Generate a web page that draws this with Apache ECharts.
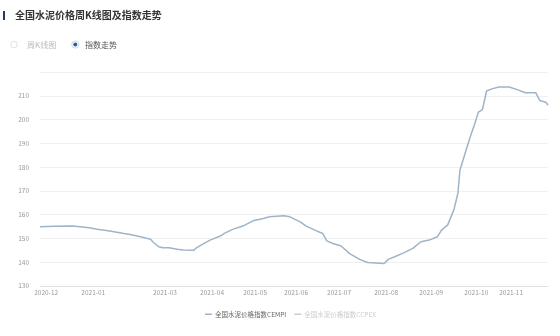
<!DOCTYPE html>
<html>
<head>
<meta charset="utf-8">
<script src="https://cdn.jsdelivr.net/npm/echarts@6/dist/echarts.min.js"></script>
<style>html,body{margin:0;padding:0;background:#fff;}#c{width:560px;height:336px;}</style>
</head>
<body>
<div id="c"></div>
<script>
// x = working-day index since 2020-11-26
const monthTickIdx = [3, 26, 61, 84, 105, 125, 146, 169, 191, 213, 230];
const monthTickLabels = ['2020-12','2021-01','2021-03','2021-04','2021-05','2021-06','2021-07','2021-08','2021-09','2021-10','2021-11'];
const cempiIdx = [0,7,16,24,28,34,41,44,49,54,55,58,60,63,67,70,75,76,78,83,88,90,94,99,104,109,112,119,122,127,130,135,138,140,143,147,151,156,160,168,170,174,177,182,186,190,194,196,199,202,204,205,208,210,212,214,216,218,221,224,229,233,237,242,244,247,248];
const cempiVal = [154.9,155.1,155.2,154.5,153.9,153.1,152.1,151.7,150.7,149.7,148.6,146.5,146.1,146.1,145.5,145.1,145.0,145.8,146.9,149.3,151.0,152.1,153.8,155.2,157.4,158.4,159.1,159.5,159.1,157.0,155.2,153.2,152.1,149.0,147.9,146.8,143.7,141.2,139.9,139.5,141.2,142.6,143.7,145.8,148.6,149.3,150.7,153.5,155.6,161.9,168.9,178.7,187.1,192.7,197.6,203.1,204.2,212.0,213.0,213.7,213.7,212.6,211.3,211.3,208.0,207.3,206.0];
const ccpexVal = [];
const seriesNames = ['全国水泥价格指数CEMPI', '全国水泥价格指数CCPEX'];
const yTicks = [130, 140, 150, 160, 170, 180, 190, 200, 210, 220];

const chart = echarts.init(document.getElementById('c'), null, {renderer: 'canvas'});
const font = "'Noto Sans CJK SC', 'Noto Sans', sans-serif";
chart.setOption({
  animation: false,
  textStyle: {fontFamily: font},
  grid: {left: 40, right: 12, top: 72, bottom: 50},
  graphic: [
    {type: 'rect', shape: {x: 3, y: 11, width: 2, height: 9}, style: {fill: '#1d3a6e'}},
    {type: 'text', x: 15, y: 15.5, style: {text: '全国水泥价格周K线图及指数走势', font: "bold 10px 'Noto Sans CJK SC'", fill: '#333', textVerticalAlign: 'middle'}},
    {type: 'circle', shape: {cx: 14, cy: 44.5, r: 3.3}, style: {fill: '#fff', stroke: '#d8d8d8', lineWidth: 0.8}},
    {type: 'text', x: 27, y: 44.5, style: {text: '周K线图', font: "8px 'Noto Sans CJK SC'", fill: '#bbb', textVerticalAlign: 'middle'}},
    {type: 'circle', shape: {cx: 75.3, cy: 44.5, r: 3.6}, style: {fill: '#fff', stroke: '#b9cbe2', lineWidth: 0.8}},
    {type: 'circle', shape: {cx: 75.3, cy: 44.5, r: 2}, style: {fill: '#2c5d9e'}},
    {type: 'text', x: 85, y: 44.5, style: {text: '指数走势', font: "8px 'Noto Sans CJK SC'", fill: '#555', textVerticalAlign: 'middle'}}
  ],
  legend: {
    left: 200, top: 306,
    itemWidth: 7, itemHeight: 1.5, itemGap: 8,
    icon: 'rect',
    textStyle: {fontSize: 6.5, color: '#666', padding: [0, 0, 0, -2]},
    inactiveColor: '#ccc',
    data: seriesNames,
    selected: {[seriesNames[0]]: true, [seriesNames[1]]: false}
  },
  xAxis: {
    type: 'value', min: 0, max: 248,
    axisLine: {show: true, lineStyle: {color: '#e2e2e2'}},
    axisTick: {show: false},
    splitLine: {show: false},
    axisLabel: {
      customValues: monthTickIdx,
      fontSize: 6.5, color: '#999', margin: 3,
      formatter: v => monthTickLabels[monthTickIdx.indexOf(v)]
    }
  },
  yAxis: {
    type: 'value', min: yTicks[0], max: yTicks[yTicks.length - 1], interval: 10,
    axisLine: {show: false}, axisTick: {show: false},
    splitLine: {lineStyle: {color: '#f0f0f0', width: 1}},
    axisLabel: {fontSize: 6.5, color: '#999', margin: 11, showMaxLabel: false}
  },
  series: [
    {
      name: seriesNames[0], type: 'line', showSymbol: false,
      data: cempiIdx.map((x, i) => [x, cempiVal[i]]),
      lineStyle: {color: '#9fb4c8', width: 1.5},
      itemStyle: {color: '#9fb4c8'}
    },
    {
      name: seriesNames[1], type: 'line', showSymbol: false,
      data: ccpexVal,
      lineStyle: {color: '#c7d3e0', width: 1.5},
      itemStyle: {color: '#c7d3e0'}
    }
  ]
});
</script>
</body>
</html>
